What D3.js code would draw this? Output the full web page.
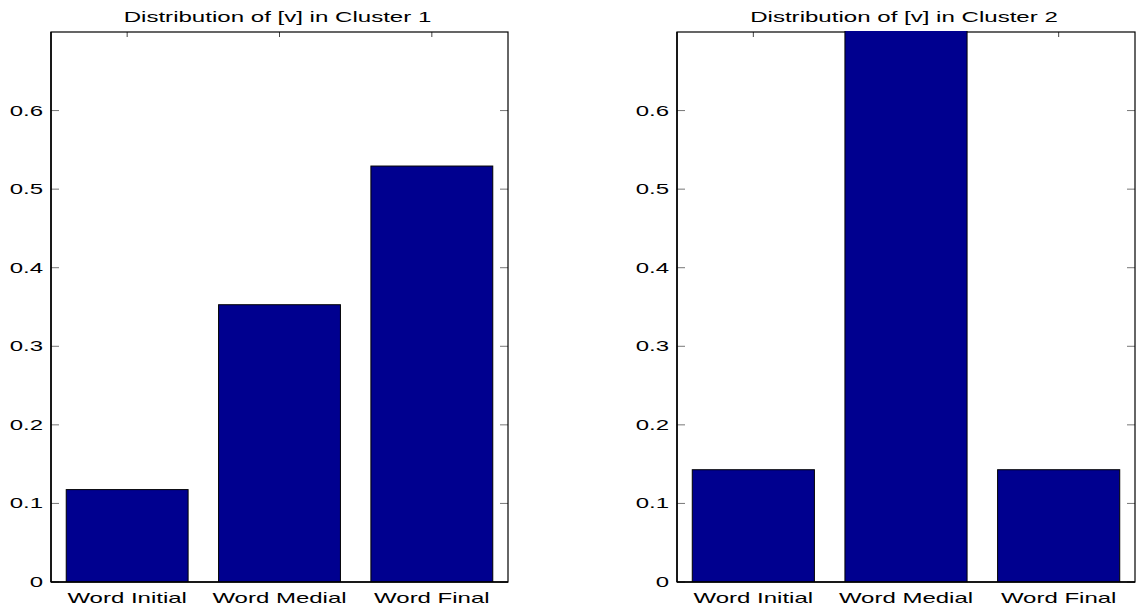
<!DOCTYPE html>
<html>
<head>
<meta charset="utf-8">
<script src="https://cdn.jsdelivr.net/npm/d3@7/dist/d3.min.js"></script>
<style>
  body { margin: 0; background: #fff; }
  text { font-family: "Liberation Sans", Arial, sans-serif; fill: #000; }
</style>
</head>
<body>
<svg id="chart" width="1140" height="608"></svg>
<script>
const categories = ["Word Initial", "Word Medial", "Word Final"];
const cluster1 = [0.1176, 0.3529, 0.5294];
const cluster2 = [0.1429, 0.7143, 0.1429];
const titles = ["Distribution of [v] in Cluster 1", "Distribution of [v] in Cluster 2"];
const yTicks = [0, 0.1, 0.2, 0.3, 0.4, 0.5, 0.6];

const panels = [
  {values: cluster1, title: titles[0], left: 51, right: 508},
  {values: cluster2, title: titles[1], left: 677, right: 1135}
];

const plotTop = 32, plotBottom = 582;
const barColor = "#00008f";
const stretch = 1.6;    // the picture is wider than it is tall, text too
const titleStretch = 1.72;

const svg = d3.select("#chart");

// text placed with a horizontal stretch
function stretchedText(g, x, y, str, size, anchor, sx) {
  return g.append("text")
    .attr("transform", `translate(${x},${y}) scale(${sx},1)`)
    .attr("text-anchor", anchor)
    .style("font-size", size + "px")
    .text(str);
}

panels.forEach((p, i) => {
  const x = d3.scaleBand()
    .domain(categories)
    .range([p.left, p.right])
    .paddingInner(0.2)
    .paddingOuter(0.1);
  const y = d3.scaleLinear().domain([0, 0.7]).range([plotBottom, plotTop]);

  const g = svg.append("g");

  // y ticks both sides, pointing in
  g.selectAll(".ytl").data(yTicks).join("line")
    .attr("x1", p.left).attr("x2", p.left + 8)
    .attr("y1", d => y(d)).attr("y2", d => y(d))
    .attr("stroke", "#777").attr("stroke-width", 1);
  g.selectAll(".ytr").data(yTicks).join("line")
    .attr("x1", p.right - 8).attr("x2", p.right)
    .attr("y1", d => y(d)).attr("y2", d => y(d))
    .attr("stroke", "#777").attr("stroke-width", 1);

  // x ticks on top edge
  g.selectAll(".xt").data(categories).join("line")
    .attr("x1", d => x(d) + x.bandwidth() / 2).attr("x2", d => x(d) + x.bandwidth() / 2)
    .attr("y1", plotTop).attr("y2", plotTop + 5)
    .attr("stroke", "#444").attr("stroke-width", 1);

  // box
  g.append("rect")
    .attr("x", p.left).attr("y", plotTop)
    .attr("width", p.right - p.left).attr("height", plotBottom - plotTop)
    .attr("fill", "none").attr("stroke", "#000").attr("stroke-width", 1.2);

  // bars, clipped to the axes
  const clipId = "clip" + i;
  svg.append("clipPath").attr("id", clipId)
    .append("rect")
    .attr("x", p.left).attr("y", plotTop - 1)
    .attr("width", p.right - p.left).attr("height", plotBottom - plotTop + 1);

  g.append("g").attr("clip-path", `url(#${clipId})`)
    .selectAll("rect").data(p.values).join("rect")
    .attr("x", (d, j) => x(categories[j]))
    .attr("y", d => y(d))
    .attr("width", x.bandwidth())
    .attr("height", d => plotBottom - y(d))
    .attr("fill", barColor)
    .attr("stroke", "#000").attr("stroke-width", 1);

  // bottom and left axis lines over the bars
  g.append("line")
    .attr("x1", p.left).attr("x2", p.right)
    .attr("y1", plotBottom).attr("y2", plotBottom)
    .attr("stroke", "#000").attr("stroke-width", 1.5);
  g.append("line")
    .attr("x1", p.left).attr("x2", p.left)
    .attr("y1", plotTop).attr("y2", plotBottom)
    .attr("stroke", "#000").attr("stroke-width", 1.5);

  // y tick labels
  yTicks.forEach(t => {
    stretchedText(g, p.left - 8, y(t) + 5, t === 0 ? "0" : d3.format(".1f")(t), 15, "end", stretch);
  });

  // category labels
  categories.forEach(c => {
    stretchedText(g, x(c) + x.bandwidth() / 2, 603, c, 15, "middle", stretch);
  });

  // title
  stretchedText(g, (p.left + p.right) / 2 - 2, 22, p.title, 14, "middle", titleStretch);
});
</script>
</body>
</html>
